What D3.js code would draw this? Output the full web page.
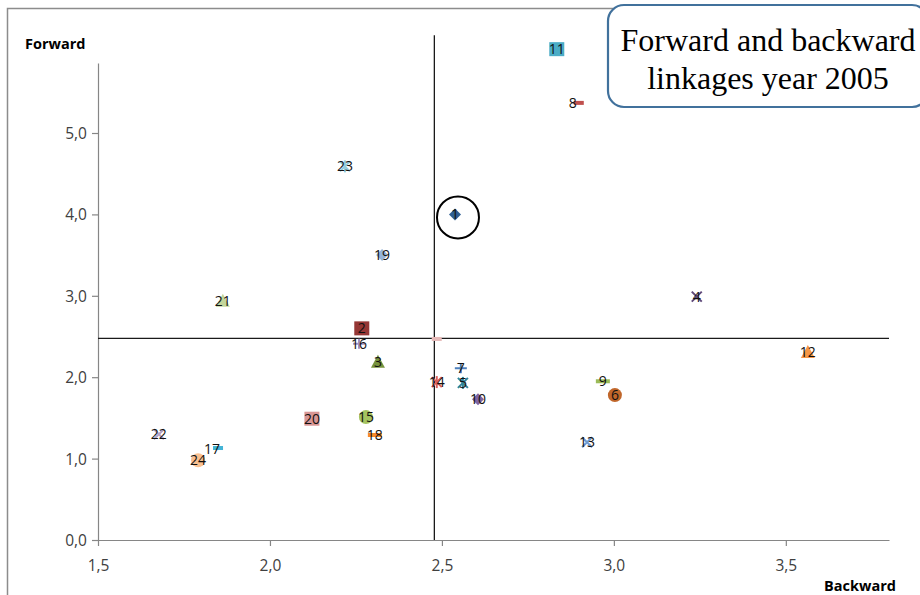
<!DOCTYPE html>
<html>
<head>
<meta charset="utf-8">
<script src="https://cdn.jsdelivr.net/npm/d3@7"></script>
<style>
  html, body { margin: 0; padding: 0; background: #fff; }
  svg { display: block; }
</style>
</head>
<body>
<svg id="chart"></svg>
<script>
const width = 920;
const height = 595;

// sector numbers, backward (x) and forward (y) linkages
const sectors  = ["1","2","3","4","5","6","7","8","9","10","11","12",
                  "13","14","15","16","17","18","19","20","21","22","23","24"];
const backward = [2.538, 2.267, 2.314, 3.241, 2.561, 3.003, 2.555, 2.898, 2.968, 2.605, 2.834, 3.564,
                  2.922, 2.485, 2.279, 2.259, 1.849, 2.305, 2.326, 2.122, 1.863, 1.677, 2.218, 1.791];
const forward  = [4.00, 2.60, 2.19, 2.99, 1.93, 1.78, 2.11, 5.37, 1.95, 1.73, 6.03, 2.31,
                  1.20, 1.94, 1.51, 2.41, 1.13, 1.29, 3.50, 1.49, 2.94, 1.30, 4.59, 0.98];
const sectorColors = ["#2f5f92","#953735","#77933c","#5f497a","#31859c","#c0662a",
                      "#4f81bd","#c0504d","#9bbb59","#8064a2","#4bacc6","#f79646",
                      "#6f9bd1","#d9605c","#a5c460","#a28fc0","#43b4d6","#f88a2c",
                      "#95b3d7","#d99694","#c3d69b","#b3a2c7","#93cddd","#fac090"];
// the average point and the two mean lines
const avgPoint = [2.485, 2.47];
const meanBackward = 2.478;
const meanForward = 2.478;
const meanLineTop = 6.2;

const xTicks = [1.5, 2.0, 2.5, 3.0, 3.5];
const yTicks = [0, 1, 2, 3, 4, 5];

const plot = { left: 98, right: 889, top: 63, bottom: 540 };

const svg = d3.select("#chart").attr("width", width).attr("height", height);

svg.append("rect").attr("width", width).attr("height", height).attr("fill", "#fff");
// chart frame (right and bottom run off the picture)
svg.append("rect")
  .attr("x", 7.5).attr("y", 8.5).attr("width", 1000).attr("height", 1000)
  .attr("fill", "none").attr("stroke", "#8c8c8c").attr("stroke-width", 1.5);

const scX = d3.scaleLinear().domain([1.5, 3.8]).range([plot.left, plot.right]);
const scY = d3.scaleLinear().domain([0, 5.86]).range([plot.bottom, plot.top]);

const fmt = d => d3.format(".1f")(d).replace(".", ",");

// axes
const axX = svg.append("g")
  .attr("transform", `translate(0, ${plot.bottom})`)
  .call(d3.axisBottom(scX).tickValues(xTicks).tickFormat(fmt).tickSize(6).tickSizeOuter(0));
const axY = svg.append("g")
  .attr("transform", `translate(${plot.left}, 0)`)
  .call(d3.axisLeft(scY).tickValues(yTicks).tickFormat(fmt).tickSize(6).tickSizeOuter(0));

[axX, axY].forEach(ax => {
  ax.select(".domain").attr("stroke", "#868686").attr("stroke-width", 1.2);
  ax.selectAll(".tick line").attr("stroke", "#868686").attr("stroke-width", 1.2);
  ax.selectAll(".tick text")
    .attr("fill", "#404040")
    .style("font-family", "'Open Sans', sans-serif")
    .style("font-size", "15.5px");
});
axX.selectAll(".tick text").attr("dy", "1.45em");
axY.selectAll(".tick text").attr("x", -11).attr("dy", "0.36em");

// axis titles
svg.append("text").attr("x", 25).attr("y", 49)
  .style("font-family", "'Open Sans', sans-serif").style("font-size", "14.5px").style("font-weight", "bold")
  .text("Forward");
svg.append("text").attr("x", 896).attr("y", 591).attr("text-anchor", "end")
  .style("font-family", "'Open Sans', sans-serif").style("font-size", "14.5px").style("font-weight", "bold")
  .text("Backward");

// mean lines
svg.append("line")
  .attr("x1", scX(meanBackward)).attr("x2", scX(meanBackward))
  .attr("y1", scY(meanLineTop)).attr("y2", scY(0))
  .attr("stroke", "#1a1a1a").attr("stroke-width", 1.3);
svg.append("line")
  .attr("x1", scX(1.5)).attr("x2", scX(3.8))
  .attr("y1", scY(meanForward)).attr("y2", scY(meanForward))
  .attr("stroke", "#1a1a1a").attr("stroke-width", 1.3);

// Excel marker cycle
const markerCycle = ["diamond", "square", "triangle", "x", "star", "circle", "plus", "dash", "longdash"];

function drawMarker(g, type, cx, cy, color) {
  const m = g.append("g").attr("transform", `translate(${cx}, ${cy})`);
  if (type === "diamond") {
    m.append("path").attr("d", "M0,-6L6,0L0,6L-6,0Z").attr("fill", color);
  } else if (type === "square") {
    m.append("rect").attr("x", -7.5).attr("y", -7).attr("width", 15).attr("height", 14).attr("fill", color);
  } else if (type === "triangle") {
    m.append("path").attr("d", "M0,-7L7,6L-7,6Z").attr("fill", color);
  } else if (type === "x" || type === "star") {
    m.append("path").attr("d", "M-5,-5L5,5M-5,5L5,-5")
      .attr("stroke", color).attr("stroke-width", 2).attr("fill", "none");
    if (type === "star") {
      m.append("path").attr("d", "M0,-6L0,6").attr("stroke", color).attr("stroke-width", 2);
    }
  } else if (type === "circle") {
    m.append("circle").attr("r", 7).attr("fill", color);
  } else if (type === "plus") {
    m.append("path").attr("d", "M-6,0L6,0M0,-5L0,5")
      .attr("stroke", color).attr("stroke-width", 2).attr("fill", "none");
  } else if (type === "dash") {
    m.append("rect").attr("x", -5).attr("y", -2).attr("width", 10).attr("height", 4).attr("fill", color);
  } else if (type === "longdash") {
    m.append("rect").attr("x", -7).attr("y", -2).attr("width", 14).attr("height", 4).attr("fill", color);
  }
}

// small label shifts where Excel put the label off the point
const labelNudge = { "8": [-6, 0], "17": [-6, 1] };

const points = sectors.map((s, i) => ({
  label: s, x: backward[i], y: forward[i], color: sectorColors[i], type: markerCycle[i % markerCycle.length]
}));

const gMarks = svg.append("g");
// average marker
drawMarker(gMarks, "dash", scX(avgPoint[0]), scY(avgPoint[1]), "#e6b9b8");
points.forEach(p => drawMarker(gMarks, p.type, scX(p.x), scY(p.y), p.color));

svg.append("g").selectAll("text")
  .data(points)
  .enter()
  .append("text")
  .attr("x", d => scX(d.x) + (labelNudge[d.label] ? labelNudge[d.label][0] : 0))
  .attr("y", d => scY(d.y) + (labelNudge[d.label] ? labelNudge[d.label][1] : 0))
  .attr("dy", "0.36em")
  .attr("text-anchor", "middle")
  .style("font-family", "'Open Sans', sans-serif")
  .style("font-size", "14px")
  .attr("fill", "#111")
  .text(d => d.label);

// hand-drawn circle round sector 1
svg.append("circle")
  .attr("cx", scX(backward[0]) + 3).attr("cy", scY(forward[0]) + 3)
  .attr("r", 21)
  .attr("fill", "none").attr("stroke", "#000").attr("stroke-width", 2);

// title box
const title = svg.append("g");
title.append("rect")
  .attr("x", 608).attr("y", 5).attr("width", 320).attr("height", 102).attr("rx", 16)
  .attr("fill", "#fff").attr("stroke", "#41719c").attr("stroke-width", 2.2);
title.selectAll("text")
  .data(["Forward and backward", "linkages year 2005"])
  .enter()
  .append("text")
  .attr("x", 768)
  .attr("y", (d, i) => 51 + i * 38)
  .attr("text-anchor", "middle")
  .style("font-family", "'Liberation Serif', 'Times New Roman', serif")
  .style("font-size", "32px")
  .attr("fill", "#000")
  .text(d => d);
</script>
</body>
</html>
